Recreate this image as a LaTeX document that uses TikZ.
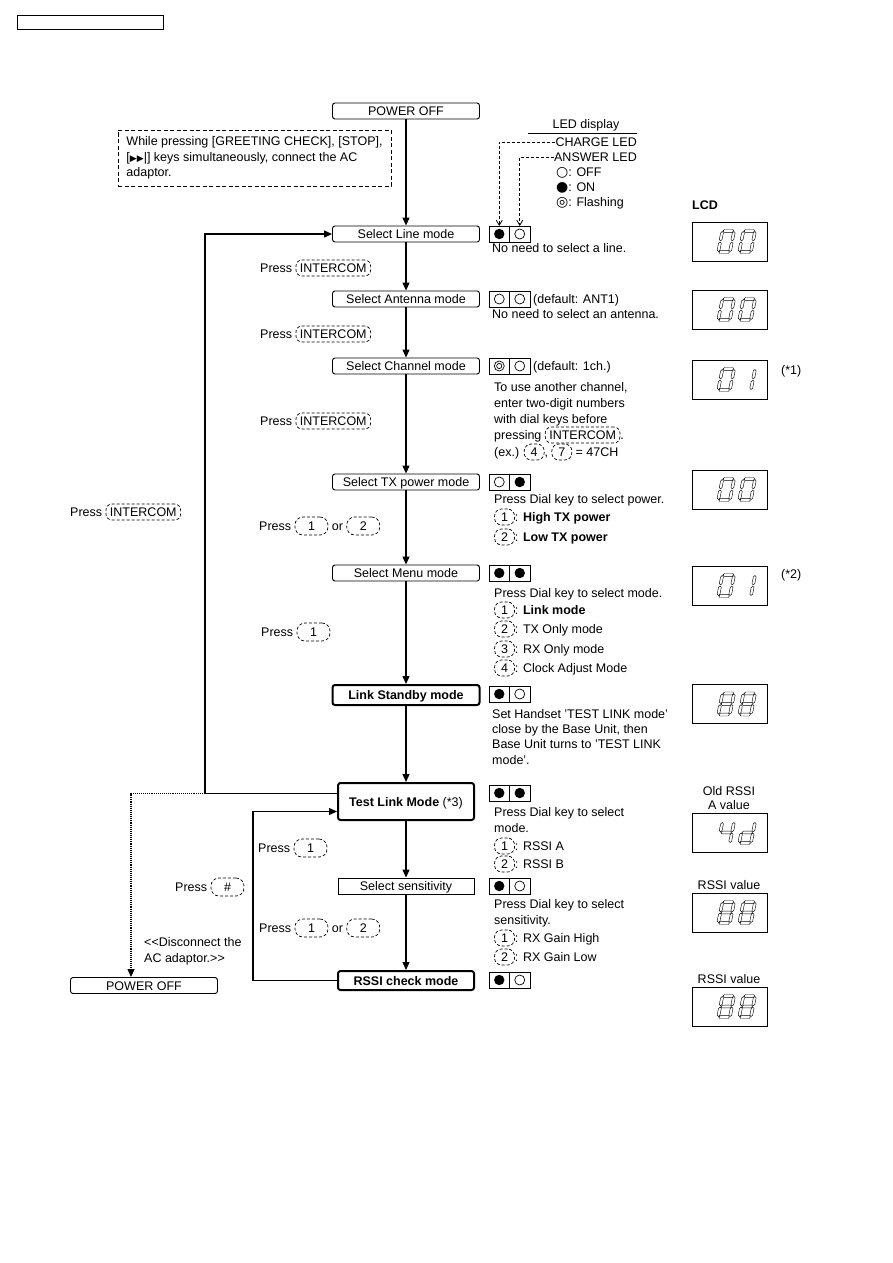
\documentclass[tikz,border=0pt]{standalone}
\usepackage{fontspec}
\setmainfont{Liberation Sans}
\newfontfamily\symfont{DejaVu Sans}
\usetikzlibrary{arrows.meta,positioning}

\tikzset{
  keycap/.style={draw,densely dashed,line width=0.7pt,rounded corners=6pt,inner xsep=4pt,inner ysep=0pt,
    minimum width=0pt,minimum height=16pt,text height=9pt,text depth=0pt,anchor=center},
  lcdseg/.style={draw,line width=0.45pt,line join=miter}
}
% dial keys drawn as dashed pills
\newcommand{\keyW}[1]{\tikz[baseline=(kc.base)]\node[keycap] (kc) {#1};}
\newcommand{\keyL}[1]{\tikz[baseline=(kc.base)]\node[keycap,minimum width=33pt,minimum height=18pt,rounded corners=8pt] (kc) {#1};}
\newcommand{\keyS}[1]{\tikz[baseline=(kc.base)]\node[keycap,minimum width=20pt,inner xsep=0pt,rounded corners=7pt] (kc) {#1};}
% LED pair next to a mode box
\newcommand{\ledpair}[4]{%
  \node[#3] (#1L) at (499.25,#2) {};
  \node[#4,right=0pt of #1L] (#1R) {};}
% seven segment digits
\newcommand{\hseg}[1]{\draw[lcdseg] (2.0,-#1) -- (3.4,{-#1-1.4}) -- (11.7,{-#1-1.4}) -- (12.5,-#1) -- (11.7,{-#1+1.4}) -- (3.4,{-#1+1.4}) -- cycle;}
\newcommand{\vseg}[3]{\draw[lcdseg] (#1,{-#2-0.6}) -- ({#1+1.4},{-#2-2.0}) -- ({#1+1.4},{-#3+2.0}) -- (#1,{-#3+0.6}) -- ({#1-1.4},{-#3+2.0}) -- ({#1-1.4},{-#2-2.0}) -- cycle;}
\newcommand{\segA}{\hseg{22.6}}
\newcommand{\segG}{\hseg{12}}
\newcommand{\segD}{\hseg{1.4}}
\newcommand{\segB}{\vseg{13.1}{12}{22.6}}
\newcommand{\segC}{\vseg{13.1}{1.4}{12}}
\newcommand{\segE}{\vseg{1.4}{1.4}{12}}
\newcommand{\segF}{\vseg{1.4}{12}{22.6}}
\newcommand{\digZero}{\segA\segB\segC\segD\segE\segF}
\newcommand{\digOne}{\segB\segC}
\newcommand{\digEight}{\segA\segB\segC\segD\segE\segF\segG}
\newcommand{\digFour}{\segF\segG\segB\segC}
\newcommand{\digD}{\segB\segC\segD\segE\segG}
\newcommand{\lcddigit}[3]{\begin{scope}[shift={(#1,#2)},xslant=0.2]#3\end{scope}}
\newcommand{\lcdpair}[3]{\begin{scope}[shift={(#1.south west)}]\lcddigit{25}{-8}{#2}\lcddigit{46}{-8}{#3}\end{scope}}

\begin{document}
\begin{tikzpicture}[
    x=1pt,y=-1pt,
    font=\fontsize{12.5}{15}\selectfont,
    modebox/.style={draw,line width=0.9pt,rounded corners=2.5pt,minimum width=147pt,minimum height=16pt,inner sep=0pt,text height=9pt,text depth=0pt},
    boldbox/.style={modebox,line width=2pt,minimum width=136pt,font=\fontsize{12.5}{15}\selectfont\bfseries},
    note/.style={anchor=west,inner sep=0pt,text height=9pt,text depth=0pt},
    mid/.style={inner sep=0pt,text height=9pt,text depth=0pt},
    ledcell/.style={draw,line width=0.8pt,minimum width=20.5pt,minimum height=16pt,inner sep=0pt,outer sep=0pt},
    ledon/.style={ledcell,path picture={\fill (path picture bounding box.center) circle[radius=5.2pt];}},
    ledoff/.style={ledcell,path picture={\draw[line width=0.7pt] (path picture bounding box.center) circle[radius=5pt];}},
    ledflash/.style={ledcell,path picture={\draw[line width=0.7pt] (path picture bounding box.center) circle[radius=5pt] circle[radius=2.6pt];}},
    lcdbox/.style={draw,line width=1pt,minimum width=75pt,minimum height=39pt,inner sep=0pt},
    flow/.style={-{Triangle[length=8pt,width=7pt]},line width=1.2pt},
    ledarrow/.style={-{Straight Barb[length=5pt,width=6pt]},densely dashed,line width=0.8pt},
    offpath/.style={-{Triangle[length=8pt,width=7pt]},densely dotted,line width=1.1pt}
]
\useasboundingbox (0,0) rectangle (893,1263);

% header strip
\node[draw,line width=1pt,minimum width=146pt,minimum height=14pt,inner sep=0pt] (pagehdr) at (90,23) {};

% start condition
\node[modebox] (pwroff) at (406,111) {POWER OFF};
\node[draw,line width=1pt,dash pattern=on 4pt off 2.5pt,minimum width=273pt,minimum height=56pt,inner sep=0pt,align=left,
  font=\fontsize{12.5}{15.5}\selectfont] (keyhint) at (254.5,158)
  {While pressing [GREETING CHECK], [STOP],\\
   {[}{\symfont\fontsize{9}{9}\selectfont ▶▶}|] keys simultaneously, connect the AC\\
   adaptor.};

% LED legend
\node[mid] (ledhead) at (586,124) {LED display};
\node[mid,anchor=east] (charge) at (637,142) {CHARGE LED};
\node[mid,anchor=east] (answer) at (637,157) {ANSWER LED};
\node[note] (legoff) at (556,172) {{\symfont\fontsize{14}{14}\selectfont ○}: OFF};
\node[note] (legon) at (556,187) {{\symfont\fontsize{14}{14}\selectfont ●}: ON};
\node[note] (legflash) at (556,202) {{\symfont\fontsize{14}{14}\selectfont ◎}: Flashing};
\draw[line width=0.8pt] ([yshift=4pt]charge.north east) -- ++(-109pt,0);
\node[mid,font=\fontsize{12.5}{15}\selectfont\bfseries] (lcdhead) at (705,205) {LCD};

% mode sequence
\node[modebox] (selline) at (406,234) {Select Line mode};
\node[modebox] (selant) at (406,299) {Select Antenna mode};
\node[modebox] (selchan) at (406,366) {Select Channel mode};
\node[modebox] (seltx) at (406,482) {Select TX power mode};
\node[modebox] (selmenu) at (406,573) {Select Menu mode};
\node[boldbox,minimum width=147pt,minimum height=20pt] (linkstby) at (406,695) {Link Standby mode};
\node[boldbox,minimum height=37pt] (testlink) at (406,801.5) {Test Link Mode {\mdseries (*3)}};
\node[modebox,minimum width=136pt,rounded corners=0pt] (selsens) at (406,886) {Select sensitivity};
\node[boldbox,minimum height=19pt] (rssichk) at (406,980.5) {RSSI check mode};
\node[modebox] (pwroff2) at (144,985.5) {POWER OFF};

\draw[flow] (pwroff) -- (selline);
\draw[flow] (selline) -- (selant);
\draw[flow] (selant) -- (selchan);
\draw[flow] (selchan) -- (seltx);
\draw[flow] (seltx) -- (selmenu);
\draw[flow] (selmenu) -- (linkstby);
\draw[flow] (linkstby) -- (testlink);
\draw[flow] (testlink) -- (selsens);
\draw[flow] (selsens) -- (rssichk);

% loops back
\coordinate (loopcorner) at (205,234);
\coordinate (branch) at (205,793.5);
\coordinate (lowloop) at (253,811.5);
\draw[flow] ([yshift=8pt]testlink.west) -| (loopcorner) -- (selline.west);
\draw[offpath] (branch) -| ([xshift=-13pt]pwroff2.north);
\draw[flow] (rssichk.west) -| (lowloop) -- ([yshift=-10pt]testlink.west);

% key labels
\node[note] (pressA) at (260,268) {Press \keyW{INTERCOM}};
\node[note] (pressB) at (260,334) {Press \keyW{INTERCOM}};
\node[note] (pressC) at (260,421) {Press \keyW{INTERCOM}};
\node[note] (pressD) at (259,526) {Press \keyL{1} or \keyL{2}};
\node[note] (pressE) at (261,632) {Press \keyL{1}};
\node[note] (pressLoop) at (70,512) {Press \keyW{INTERCOM}};
\node[note] (pressF) at (258,848) {Press \keyL{1}};
\node[note] (pressHash) at (175,887) {Press \keyL{\#}};
\node[note] (pressG) at (259,928) {Press \keyL{1} or \keyL{2}};
\node[note] (discA) at (144,942) {<{}<Disconnect the};
\node[note] (discB) at (144,958) {AC adaptor.>{}>};

% LED states
\ledpair{line}{234}{ledon}{ledoff}
\ledpair{ant}{299}{ledoff}{ledoff}
\ledpair{chan}{366}{ledflash}{ledoff}
\ledpair{tx}{482}{ledoff}{ledon}
\ledpair{menu}{573}{ledon}{ledon}
\ledpair{stby}{694}{ledon}{ledoff}
\ledpair{test}{793}{ledon}{ledon}
\ledpair{sens}{886}{ledon}{ledoff}
\ledpair{rssi}{980}{ledon}{ledoff}
\draw[ledarrow] (charge.west) -| (lineL.north);
\draw[ledarrow] (answer.west) -| (lineR.north);

% notes on the right
\node[note] (nLine) at (492,248) {No need to select a line.};
\node[note] (nAntA) at (533,299) {(default: ANT1)};
\node[note] (nAntB) at (492,314) {No need to select an antenna.};
\node[note] (nChA) at (533,366) {(default: 1ch.)};
\node[note] (nChB) at (494,387) {To use another channel,};
\node[note] (nChC) at (494,403) {enter two-digit numbers};
\node[note] (nChD) at (494,419) {with dial keys before};
\node[note] (nChE) at (494,435) {pressing \keyW{INTERCOM}.};
\node[note] (nChF) at (494,452) {(ex.) \keyS{4}, \keyS{7} = 47CH};
\node[note] (nTxA) at (494,499) {Press Dial key to select power.};
\node[note] (nTxB) at (494,517) {\keyS{1}: \textbf{High TX power}};
\node[note] (nTxC) at (494,537) {\keyS{2}: \textbf{Low TX power}};
\node[note] (nMnA) at (494,593) {Press Dial key to select mode.};
\node[note] (nMnB) at (494,610) {\keyS{1}: \textbf{Link mode}};
\node[note] (nMnC) at (494,629) {\keyS{2}: TX Only mode};
\node[note] (nMnD) at (494,649) {\keyS{3}: RX Only mode};
\node[note] (nMnE) at (494,668) {\keyS{4}: Clock Adjust Mode};
\node[note] (nSbA) at (492,714) {Set Handset 'TEST LINK mode'};
\node[note] (nSbB) at (492,729) {close by the Base Unit, then};
\node[note] (nSbC) at (492,744) {Base Unit turns to 'TEST LINK};
\node[note] (nSbD) at (492,760) {mode'.};
\node[note] (nTsA) at (494,812) {Press Dial key to select};
\node[note] (nTsB) at (494,828) {mode.};
\node[note] (nTsC) at (494,846) {\keyS{1}: RSSI A};
\node[note] (nTsD) at (494,864) {\keyS{2}: RSSI B};
\node[note] (nSnA) at (494,904) {Press Dial key to select};
\node[note] (nSnB) at (494,920) {sensitivity.};
\node[note] (nSnC) at (494,938) {\keyS{1}: RX Gain High};
\node[note] (nSnD) at (494,957) {\keyS{2}: RX Gain Low};

% LCD readings
\node[lcdbox] (lcdA) at (729.5,241.5) {};
\node[lcdbox] (lcdB) at (729.5,309.5) {};
\node[lcdbox] (lcdC) at (729.5,379.5) {};
\node[lcdbox] (lcdD) at (729.5,489.5) {};
\node[lcdbox] (lcdE) at (729.5,585.5) {};
\node[lcdbox] (lcdF) at (729.5,704) {};
\node[lcdbox] (lcdG) at (729.5,832.5) {};
\node[lcdbox] (lcdH) at (729.5,912.5) {};
\node[lcdbox] (lcdI) at (729.5,1006.5) {};
\lcdpair{lcdA}{\digZero}{\digZero}
\lcdpair{lcdB}{\digZero}{\digZero}
\lcdpair{lcdC}{\digZero}{\digOne}
\lcdpair{lcdD}{\digZero}{\digZero}
\lcdpair{lcdE}{\digZero}{\digOne}
\lcdpair{lcdF}{\digEight}{\digEight}
\lcdpair{lcdG}{\digFour}{\digD}
\lcdpair{lcdH}{\digEight}{\digEight}
\lcdpair{lcdI}{\digEight}{\digEight}
\node[note] (fnA) at (781,370) {(*1)};
\node[note] (fnB) at (781,574) {(*2)};
\node[mid] (oldA) at (729,791) {Old RSSI};
\node[mid] (oldB) at (729,805) {A value};
\node[mid] (rssiH) at (729,885) {RSSI value};
\node[mid] (rssiI) at (729,979) {RSSI value};
\end{tikzpicture}
\end{document}
